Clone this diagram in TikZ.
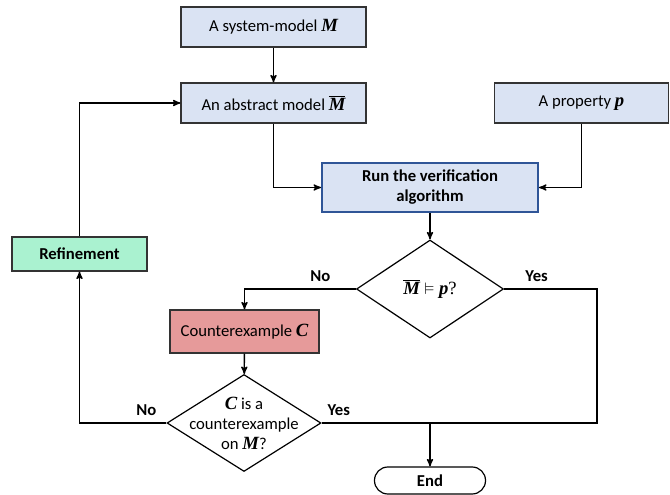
\documentclass[tikz,border=0pt]{standalone}
\usepackage{amsmath}
\usepackage{amssymb}
\usepackage{fontspec}
\setmainfont{Carlito}
\newfontfamily\symfont{Liberation Serif}
\newcommand{\msym}[1]{{\symfont\fontsize{14}{15}\selectfont\bfseries\itshape #1}}
\usetikzlibrary{arrows}
\usetikzlibrary{shapes.geometric}
\definecolor{boxblue}{RGB}{218,227,243}
\definecolor{boxgreen}{RGB}{170,242,208}
\definecolor{boxred}{RGB}{230,154,154}
\definecolor{runline}{RGB}{47,85,151}
\tikzset{
  box/.style={draw=black!80,line width=0.9pt,fill=boxblue,inner sep=0pt,align=center,
    font=\fontsize{12.5}{15}\selectfont},
  decision/.style={draw=black,line width=0.9pt,shape=diamond,inner sep=0pt},
  dectext/.style={align=center,inner sep=0pt,font=\fontsize{12.5}{15}\selectfont},
  lbl/.style={font=\fontsize{12.5}{15}\selectfont\bfseries,inner sep=2pt},
  conn/.style={black,line width=1pt},
}
\begin{document}
\begin{tikzpicture}[x=0.75pt,y=-0.75pt,>=stealth']
\useasboundingbox (0,0) rectangle (670,495);
% boxes
\node[box,minimum width=138.75pt,minimum height=30pt] (sys) at (273.5,27) {A system-model \msym{M}};
\node[box,minimum width=138.75pt,minimum height=30pt] (abs) at (273.5,103) {An abstract model $\overline{\text{\msym{M}}}$};
\node[box,minimum width=130pt,minimum height=30pt] (prop) at (581.5,103) {A property \msym{p}};
\node[box,draw=runline,line width=1.4pt,font=\fontsize{12.5}{15}\selectfont\bfseries,
  minimum width=162pt,minimum height=36.75pt] (run) at (430,187.5) {Run the verification\\algorithm};
\node[decision,minimum width=110.25pt,minimum height=73.5pt] (dec1) at (430,289) {};
\node[dectext] (dec1txt) at (dec1.center) {$\overline{\text{\msym{M}}}\vDash\text{\msym{p}}${\symfont\fontsize{14}{15}\selectfont ?}};
\node[box,fill=boxgreen,font=\fontsize{12.5}{15}\selectfont\bfseries,
  minimum width=101.25pt,minimum height=25.5pt] (ref) at (79.5,254) {Refinement};
\node[box,fill=boxred,minimum width=111.75pt,minimum height=32.25pt] (cex) at (244.5,331.5) {Counterexample \msym{C}};
\node[decision,minimum width=115.5pt,minimum height=72.75pt] (dec2) at (244,423) {};
\node[dectext] (dec2txt) at (dec2.center) {\msym{C} is a\\counterexample\\on \msym{M}?};
\node[draw=black,line width=0.9pt,rounded corners=10pt,minimum width=83.25pt,minimum height=20.25pt,
  inner sep=0pt,font=\fontsize{12.5}{15}\selectfont\bfseries] (end) at (430,480.5) {End};
\coordinate (yes) at (597,423);
\coordinate (join) at (430,423);
% connectors
\draw[conn,->] (sys) -- (abs);
\draw[conn,->] (abs.south) |- (run.west);
\draw[conn,->] (prop.south) |- (run.east);
\draw[conn,->] (run) -- (dec1);
\draw[conn,->] (dec1.west) -- node[lbl,above,pos=0.32,yshift=3pt]{No} (dec1.west -| cex.north) -- (cex.north);
\draw[conn] (dec1.east) -- node[lbl,above,pos=0.35,yshift=3pt]{Yes} (dec1.east -| yes) -- (yes) -- (dec2.east)
  node[lbl,above right,pos=1,xshift=2pt,yshift=3pt]{Yes};
\draw[conn,->] (join) -- (end);
\draw[conn,->] (cex) -- (dec2);
\draw[conn,->] (dec2.west) -- node[lbl,above left,pos=0,xshift=-5pt,yshift=3pt]{No} (dec2.west -| ref.south) -- (ref.south);
\draw[conn,->] (ref.north) |- (abs.west);
\end{tikzpicture}
\end{document}
